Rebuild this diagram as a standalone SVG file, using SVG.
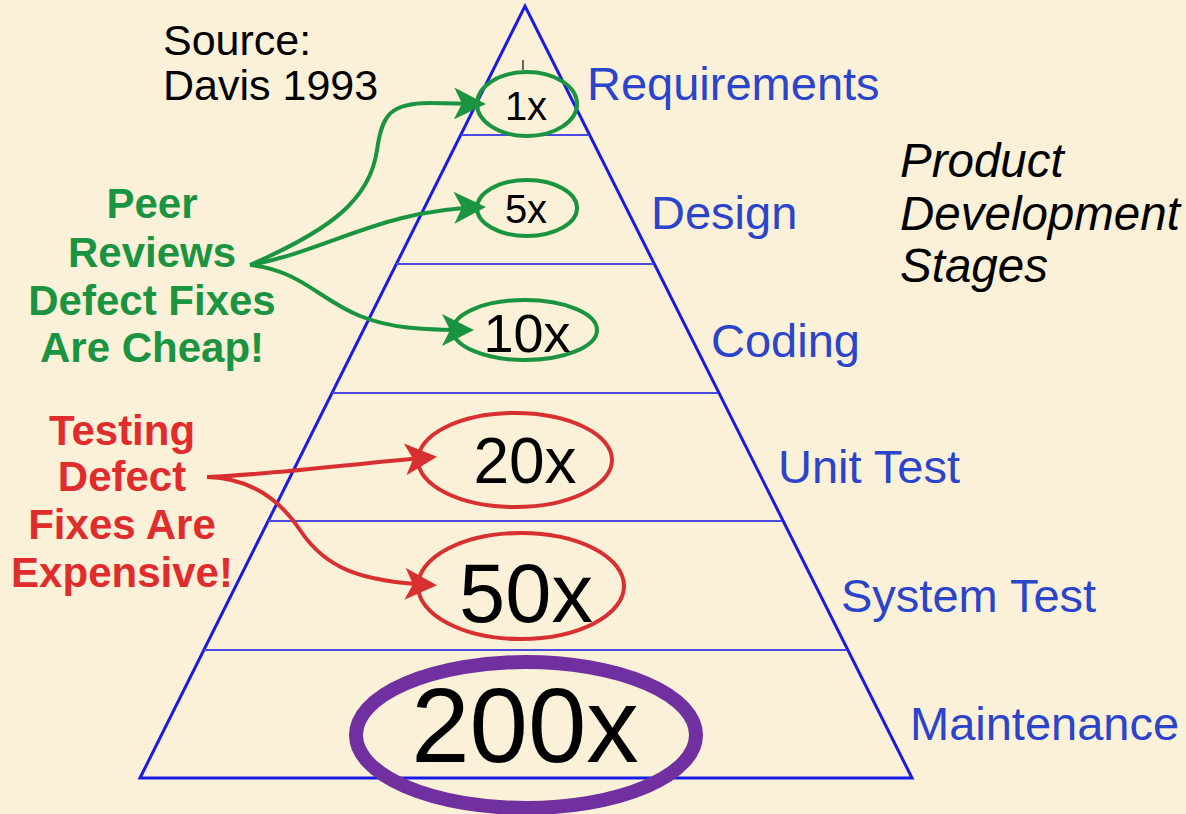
<svg xmlns="http://www.w3.org/2000/svg" width="1186" height="814" viewBox="0 0 1186 814">
<style>
.side{stroke:#1a1ae6;stroke-width:3;fill:none}
.div{stroke:#4a4ae0;stroke-width:2;fill:none}
.lbl{font-family:"Liberation Sans",Arial,sans-serif;font-size:47px;fill:#2a44cc}
.num{font-family:"Liberation Sans",Arial,sans-serif;fill:#000;text-anchor:middle}
.blk{font-family:"Liberation Sans",Arial,sans-serif;font-size:43px;fill:#000}
.it{font-family:"Liberation Sans",Arial,sans-serif;font-size:47.5px;font-style:italic;fill:#000}
.gtxt{font-family:"Liberation Sans",Arial,sans-serif;font-size:42px;font-weight:bold;fill:#1a9440;text-anchor:middle}
.rtxt{font-family:"Liberation Sans",Arial,sans-serif;font-size:42px;font-weight:bold;fill:#e02c2c;text-anchor:middle}
.gell{fill:none;stroke:#1a9440;stroke-width:4}
.rell{fill:none;stroke:#d83030;stroke-width:4}
.gcon{fill:none;stroke:#1a9440;stroke-width:4}
.rcon{fill:none;stroke:#d83030;stroke-width:4}
</style>
<defs>
<marker id="ag" markerWidth="8" markerHeight="8" refX="7" refY="4" orient="auto" markerUnits="strokeWidth"><path d="M0,0 L8,4 L0,8 L2,4 Z" fill="#1a9440"/></marker>
<marker id="ar" markerWidth="8" markerHeight="8" refX="7" refY="4" orient="auto" markerUnits="strokeWidth"><path d="M0,0 L8,4 L0,8 L2,4 Z" fill="#d83030"/></marker>
</defs>
<rect width="1186" height="814" fill="#fbf1d8"/>
<g id="pyramid">
<path class="side" d="M140,778 L525,6 L912,778 Z"/>
<line class="div" x1="461" y1="135" x2="589" y2="135"/>
<line class="div" x1="396" y1="264" x2="654" y2="264"/>
<line class="div" x1="332" y1="393" x2="718" y2="393"/>
<line class="div" x1="268" y1="521" x2="782" y2="521"/>
<line class="div" x1="204" y1="650" x2="846" y2="650"/>
<line x1="523" y1="60" x2="523" y2="70" stroke="#666" stroke-width="2"/>
</g>
<g id="source"><text class="blk" x="163" y="55">Source:</text><text class="blk" x="163" y="100">Davis 1993</text></g>
<g id="stages"><text class="it" x="900" y="177">Product</text><text class="it" x="900" y="230">Development</text><text class="it" x="900" y="282">Stages</text></g>
<g id="stage-labels">
<text class="lbl" x="587" y="100">Requirements</text>
<text class="lbl" x="651" y="229">Design</text>
<text class="lbl" x="711" y="357">Coding</text>
<text class="lbl" x="778" y="483">Unit Test</text>
<text class="lbl" x="841" y="612">System Test</text>
<text class="lbl" x="910" y="740">Maintenance</text>
</g>
<g id="peer"><text class="gtxt" x="152" y="218">Peer</text><text class="gtxt" x="152" y="267">Reviews</text><text class="gtxt" x="152" y="315">Defect Fixes</text><text class="gtxt" x="152" y="362">Are Cheap!</text></g>
<g id="testing"><text class="rtxt" x="122" y="445">Testing</text><text class="rtxt" x="122" y="491">Defect</text><text class="rtxt" x="122" y="539">Fixes Are</text><text class="rtxt" x="122" y="587">Expensive!</text></g>
<g id="n1x"><ellipse class="gell" cx="527" cy="104" rx="50" ry="32"/><text class="num" x="526" y="120" font-size="40">1x</text></g>
<g id="n5x"><ellipse class="gell" cx="527" cy="208" rx="50" ry="28"/><text class="num" x="526" y="223" font-size="40">5x</text></g>
<g id="n10x"><ellipse class="gell" cx="525" cy="330" rx="72" ry="30"/><text class="num" x="527" y="352" font-size="54">10x</text></g>
<g id="n20x"><ellipse class="rell" cx="515" cy="460" rx="97" ry="47"/><text class="num" x="525" y="483" font-size="64">20x</text></g>
<g id="n50x"><ellipse class="rell" cx="521" cy="586" rx="103" ry="53"/><text class="num" x="526" y="622" font-size="83">50x</text></g>
<g id="n200x"><ellipse fill="none" stroke="#7030a0" stroke-width="14" cx="526" cy="735" rx="170" ry="73"/><text class="num" x="525" y="762" font-size="105">200x</text></g>
<g id="connectors">
<path class="gcon" marker-end="url(#ag)" d="M250,265 C330,230 370,200 377,150 C382,115 390,103 430,103 L482,104"/>
<path class="gcon" marker-end="url(#ag)" d="M250,265 C330,250 380,210 482,207"/>
<path class="gcon" marker-end="url(#ag)" d="M250,265 C300,270 320,300 360,316 C390,328 420,330 470,330"/>
<path class="rcon" marker-end="url(#ar)" d="M207,477 C280,474 350,464 433,457"/>
<path class="rcon" marker-end="url(#ar)" d="M207,477 C250,478 280,500 300,530 C325,568 360,582 433,585"/>
</g>
</svg>
